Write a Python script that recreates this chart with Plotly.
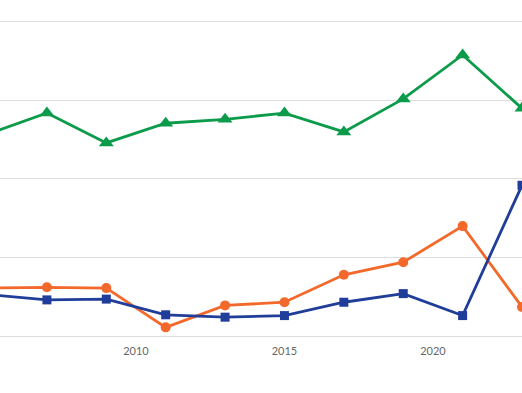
import plotly.graph_objects as go

years = [2005, 2007, 2009, 2011, 2013, 2015, 2017, 2019, 2021, 2023]
green_vals = [25.7, 28.4, 24.6, 27.1, 27.6, 28.4, 26.0, 30.2, 35.8, 29.0]
orange_vals = [6.1, 6.2, 6.1, 1.1, 3.9, 4.3, 7.8, 9.4, 14.0, 3.7]
blue_vals = [5.3, 4.6, 4.7, 2.7, 2.4, 2.6, 4.3, 5.4, 2.6, 19.2]
x_ticks = [2010, 2015, 2020]
y_ticks = [0, 10, 20, 30, 40]

fig = go.Figure()
fig.add_trace(go.Scatter(x=years, y=green_vals, mode="lines+markers",
                         line=dict(color="#0c9b4a", width=2.8),
                         marker=dict(symbol="triangle-up", size=13, color="#0c9b4a")))
fig.add_trace(go.Scatter(x=years, y=orange_vals, mode="lines+markers",
                         line=dict(color="#f2692b", width=2.8),
                         marker=dict(symbol="circle", size=10, color="#f2692b")))
fig.add_trace(go.Scatter(x=years, y=blue_vals, mode="lines+markers",
                         line=dict(color="#1f3d99", width=2.8),
                         marker=dict(symbol="square", size=9, color="#1f3d99")))

fig.update_layout(
    width=522, height=393,
    margin=dict(l=0, r=0, t=0, b=57),
    paper_bgcolor="white", plot_bgcolor="white",
    showlegend=False,
    xaxis=dict(range=[2005.42, 2023.0], tickvals=x_ticks, showgrid=False,
               zeroline=False, showline=True, linecolor="#dddddd", linewidth=1,
               ticks="", ticklabelstandoff=5,
               tickfont=dict(family="Lato", size=11, color="#666666")),
    yaxis=dict(range=[0, 42.8], tickvals=y_ticks, showticklabels=False,
               showgrid=True, gridcolor="#dddddd", gridwidth=1,
               zeroline=False, showline=False),
)
fig.write_html("out.html", config={"displayModeBar": False},
               post_script="document.body.style.margin='0';document.body.style.padding='0';")
